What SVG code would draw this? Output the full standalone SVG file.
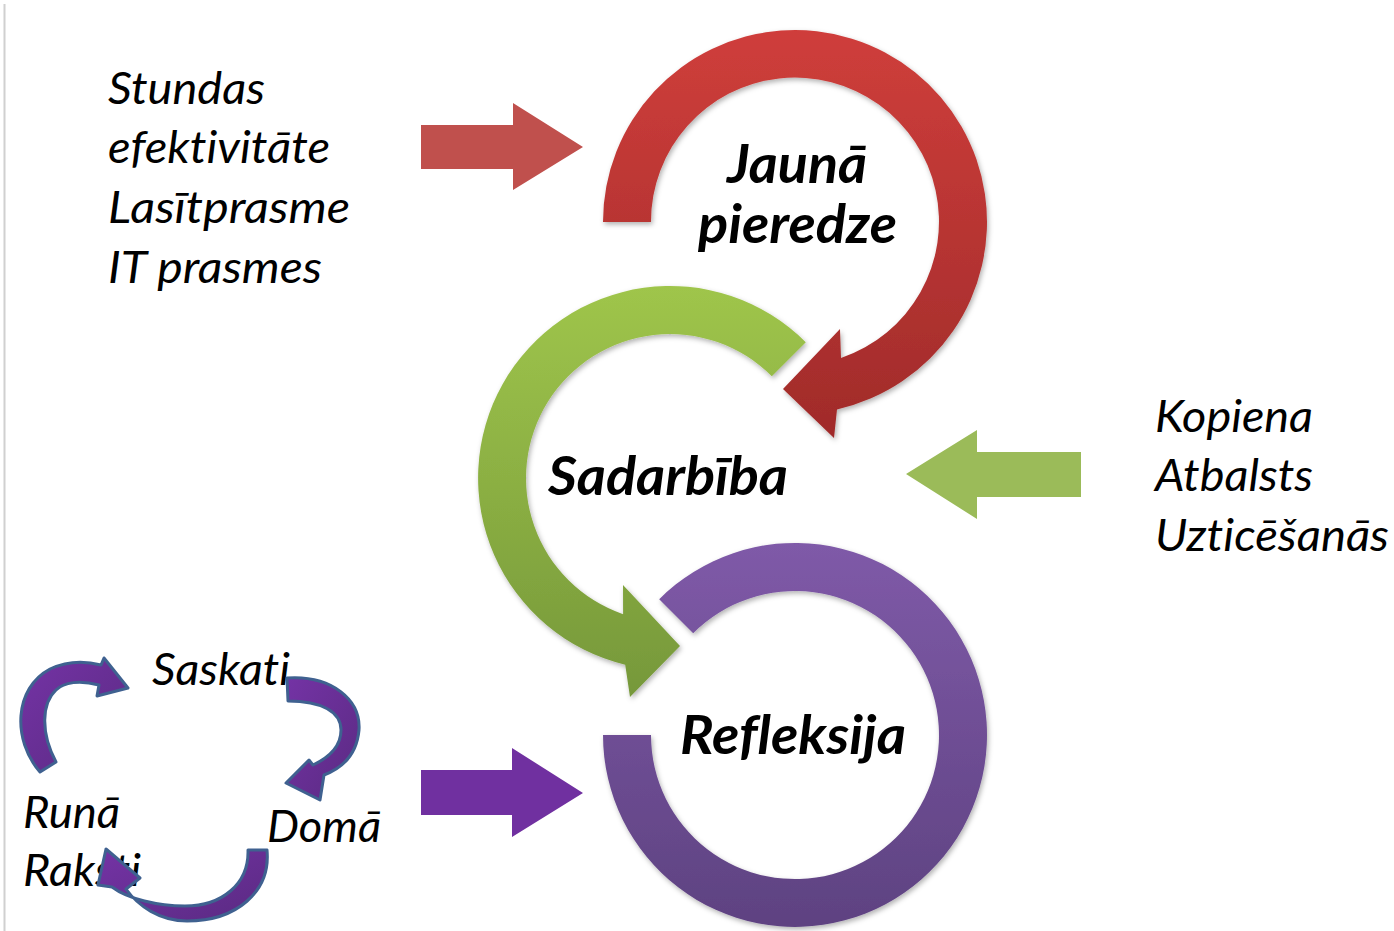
<svg xmlns="http://www.w3.org/2000/svg" width="1394" height="931" viewBox="0 0 1394 931">
<style>
text{font-variant-ligatures:none;font-feature-settings:"liga" 0,"clig" 0}
.it{font-family:Lato,"Open Sans","Liberation Sans",sans-serif;font-style:italic;font-size:44px;fill:#000}
.bi{font-family:Lato,"Open Sans","Liberation Sans",sans-serif;font-style:italic;font-weight:bold;font-size:53px;fill:#000}
.small{fill:url(#gSmall);stroke:#3f6190;stroke-width:3;stroke-linejoin:round}
</style>
<defs>
<linearGradient id="gRed" x1="0" y1="0" x2="0" y2="1"><stop offset="0" stop-color="#cf3e3b"/><stop offset="1" stop-color="#a02b2a"/></linearGradient>
<linearGradient id="gGreen" x1="0" y1="0" x2="0" y2="1"><stop offset="0" stop-color="#9fc54b"/><stop offset="1" stop-color="#76983a"/></linearGradient>
<linearGradient id="gPurple" x1="0" y1="0" x2="0" y2="1"><stop offset="0" stop-color="#7f5aa8"/><stop offset="1" stop-color="#5e4281"/></linearGradient>
<linearGradient id="gSmall" x1="0" y1="0" x2="1" y2="1"><stop offset="0" stop-color="#7433a5"/><stop offset="1" stop-color="#5a2a82"/></linearGradient>
<filter id="sh" x="-10%" y="-10%" width="120%" height="120%"><feDropShadow dx="1.5" dy="2.5" stdDeviation="2.5" flood-color="#000" flood-opacity="0.3"/></filter>
</defs>
<rect width="1394" height="931" fill="#fff"/>
<line x1="4.5" y1="4" x2="4.5" y2="931" stroke="#d0d0d0" stroke-width="2"/>

<g id="connectors">
<path id="arrow-red" d="M421 125 H513 V103 L583 147 L513 190 V169 H421 Z" fill="#c0504d"/>
<path id="arrow-green" d="M1081 452 H977 V430 L906 474 L977 519 V497 H1081 Z" fill="#9bbb59"/>
<path id="arrow-purple" d="M421 770 H512 V748 L583 793 L512 837 V815 H421 Z" fill="#7030a0"/>
</g>

<g id="node-refleksija">
<path d="M659.2 599.2 A192 192 0 1 1 603 735 L651 735 A144 144 0 1 0 693.2 633.2 Z" fill="url(#gPurple)" filter="url(#sh)"/>
<text class="bi" x="680" y="754" textLength="226" lengthAdjust="spacingAndGlyphs">Refleksija</text>
</g>
<g id="node-sadarbiba">
<path d="M805.8 342.2 A192 192 0 1 0 625.2 664.7 L630 697 L680 646 L623 585 L623.1 614.2 A144 144 0 1 1 771.8 376.2 Z" fill="url(#gGreen)" filter="url(#sh)"/>
<text class="bi" x="548" y="495" textLength="240" lengthAdjust="spacingAndGlyphs">Sadarbība</text>
</g>
<g id="node-jauna-pieredze">
<path d="M603 222 A192 192 0 1 1 837 409.4 L834 438 L783 389 L840 329 L841 358 A144 144 0 1 0 651 222 Z" fill="url(#gRed)" filter="url(#sh)"/>
<text class="bi" x="727" y="183" textLength="140" lengthAdjust="spacingAndGlyphs">Jaunā</text>
<text class="bi" x="698" y="243" textLength="199" lengthAdjust="spacingAndGlyphs">pieredze</text>
</g>

<g id="left-list">
<text class="it" x="108" y="104" textLength="157" lengthAdjust="spacingAndGlyphs">Stundas</text>
<text class="it" x="108" y="163" textLength="222" lengthAdjust="spacingAndGlyphs">efektivitāte</text>
<text class="it" x="108" y="223" textLength="242" lengthAdjust="spacingAndGlyphs">Lasītprasme</text>
<text class="it" x="108" y="283" textLength="214" lengthAdjust="spacingAndGlyphs">IT prasmes</text>
</g>
<g id="right-list">
<text class="it" x="1155" y="432" textLength="158" lengthAdjust="spacingAndGlyphs">Kopiena</text>
<text class="it" x="1155" y="491" textLength="158" lengthAdjust="spacingAndGlyphs">Atbalsts</text>
<text class="it" x="1155" y="551" textLength="234" lengthAdjust="spacingAndGlyphs">Uzticēšanās</text>
</g>

<g id="cycle-texts">
<text class="it" x="152" y="685" textLength="138" lengthAdjust="spacingAndGlyphs">Saskati</text>
<text class="it" x="23" y="828" textLength="97" lengthAdjust="spacingAndGlyphs">Runā</text>
<text class="it" x="23" y="886" textLength="118" lengthAdjust="spacingAndGlyphs">Raksti</text>
<text class="it" x="267" y="842" textLength="114" lengthAdjust="spacingAndGlyphs">Domā</text>
</g>
<g id="cycle-arrows">
<path class="small" d="M40 772 C12 740 14 688 50 669 C67 661 86 661 101 665 L104 658 L128 688 L97 696 L99 685 C80 680 64 682 56 690 C42 703 40 732 56 762 Z"/>
<path class="small" d="M287 678 C332 675 361 700 359 730 C357 752 345 767 324 775 L320 800 L286 783 L309 760 L313 765 C330 757 341 745 341 730 C341 712 322 701 288 701 Z"/>
<path class="small" d="M267 850 C271 892 236 921 187 921 C160 921 138 906 126 889 L140 878 L106 849 L98 885 L112 887 C128 899 158 906 185 906 C222 906 249 884 248 850 Z"/>
</g>
</svg>
